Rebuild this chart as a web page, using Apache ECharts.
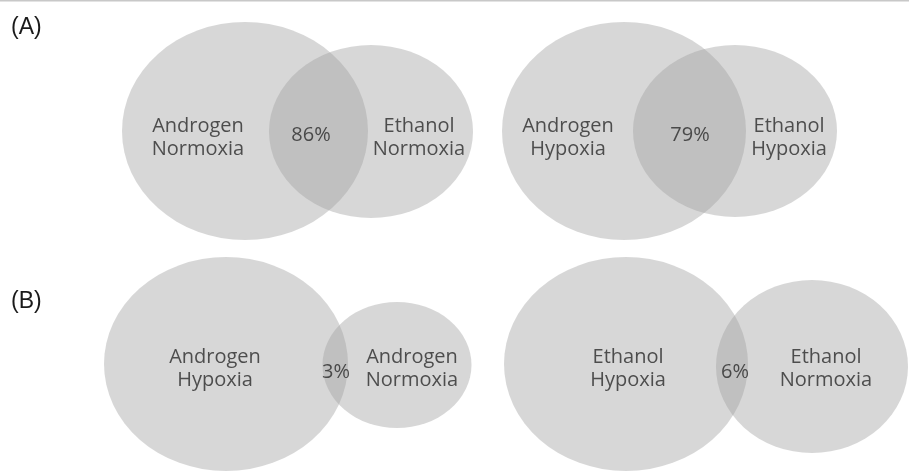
<!DOCTYPE html>
<html>
<head>
<meta charset="utf-8">
<script src="https://cdn.jsdelivr.net/npm/echarts@6/dist/echarts.min.js"></script>
<style>html,body{margin:0;padding:0;background:#fff}#c{width:909px;height:471px}</style>
</head>
<body>
<div id="c"></div>
<script>
// ---- data ----
const panelLabels = ['(A)', '(B)'];
const leftSets  = ['Androgen\nNormoxia', 'Androgen\nHypoxia', 'Androgen\nHypoxia', 'Ethanol\nHypoxia'];
const rightSets = ['Ethanol\nNormoxia', 'Ethanol\nHypoxia', 'Androgen\nNormoxia', 'Ethanol\nNormoxia'];
const overlapPct = [86, 79, 3, 6];
// circle (ellipse) geometry per set: centre x, centre y, radius x, radius y  (chart units)
const leftCircles  = [[245, 131, 123, 109], [624, 131, 122, 109], [226, 364, 122, 107], [626, 364, 122, 107]];
const rightCircles = [[371, 131.5, 102, 86.5], [735, 131, 102, 86], [397, 365, 74.5, 63], [812, 366.5, 96, 86.5]];
// label anchors
const leftLabelPos  = [[198, 138], [568, 138], [215, 369], [628, 369]];
const overlapLabelPos = [[311, 135], [690, 135], [336, 372], [735, 372]];
const rightLabelPos = [[419, 138], [789, 138], [412, 369], [826, 369]];

const circleData = leftCircles.concat(rightCircles);
const textData = [];
for (let i = 0; i < overlapPct.length; i++) {
  textData.push({ value: leftLabelPos[i], name: leftSets[i] });
  textData.push({ value: overlapLabelPos[i], name: overlapPct[i] + '%' });
  textData.push({ value: rightLabelPos[i], name: rightSets[i] });
}

const chart = echarts.init(document.getElementById('c'), null, { renderer: 'canvas' });
chart.setOption({
  backgroundColor: '#ffffff',
  animation: false,
  grid: { left: 0, right: 0, top: 0, bottom: 0 },
  xAxis: { type: 'value', min: 0, max: 909, show: false },
  yAxis: { type: 'value', min: 0, max: 471, inverse: true, show: false },
  graphic: [
    { type: 'rect', shape: { x: 0, y: 0, width: 909, height: 1.5 }, style: { fill: '#c8c8c8' }, silent: true },
    { type: 'text', left: 11, top: 16, style: { text: panelLabels[0], font: '23px "Liberation Sans", Arial, sans-serif', fill: '#1a1a1a' } },
    { type: 'text', left: 11, top: 290, style: { text: panelLabels[1], font: '23px "Liberation Sans", Arial, sans-serif', fill: '#1a1a1a' } }
  ],
  series: [
    {
      type: 'scatter',
      silent: true,
      symbol: 'circle',
      symbolSize: function (v) { return [2 * v[2], 2 * v[3]]; },
      itemStyle: { color: '#a1a1a1', opacity: 0.425 },
      data: circleData,
      z: 1
    },
    {
      type: 'scatter',
      silent: true,
      symbolSize: 2,
      itemStyle: { color: 'rgba(0,0,0,0)' },
      data: textData,
      label: {
        show: true,
        position: 'inside',
        formatter: function (p) { return p.name; },
        fontFamily: '"Open Sans", sans-serif',
        fontSize: 20,
        lineHeight: 23,
        color: '#2a2a2a',
        align: 'center',
        verticalAlign: 'middle'
      },
      labelLayout: { hideOverlap: false },
      z: 5
    }
  ]
});
</script>
</body>
</html>
